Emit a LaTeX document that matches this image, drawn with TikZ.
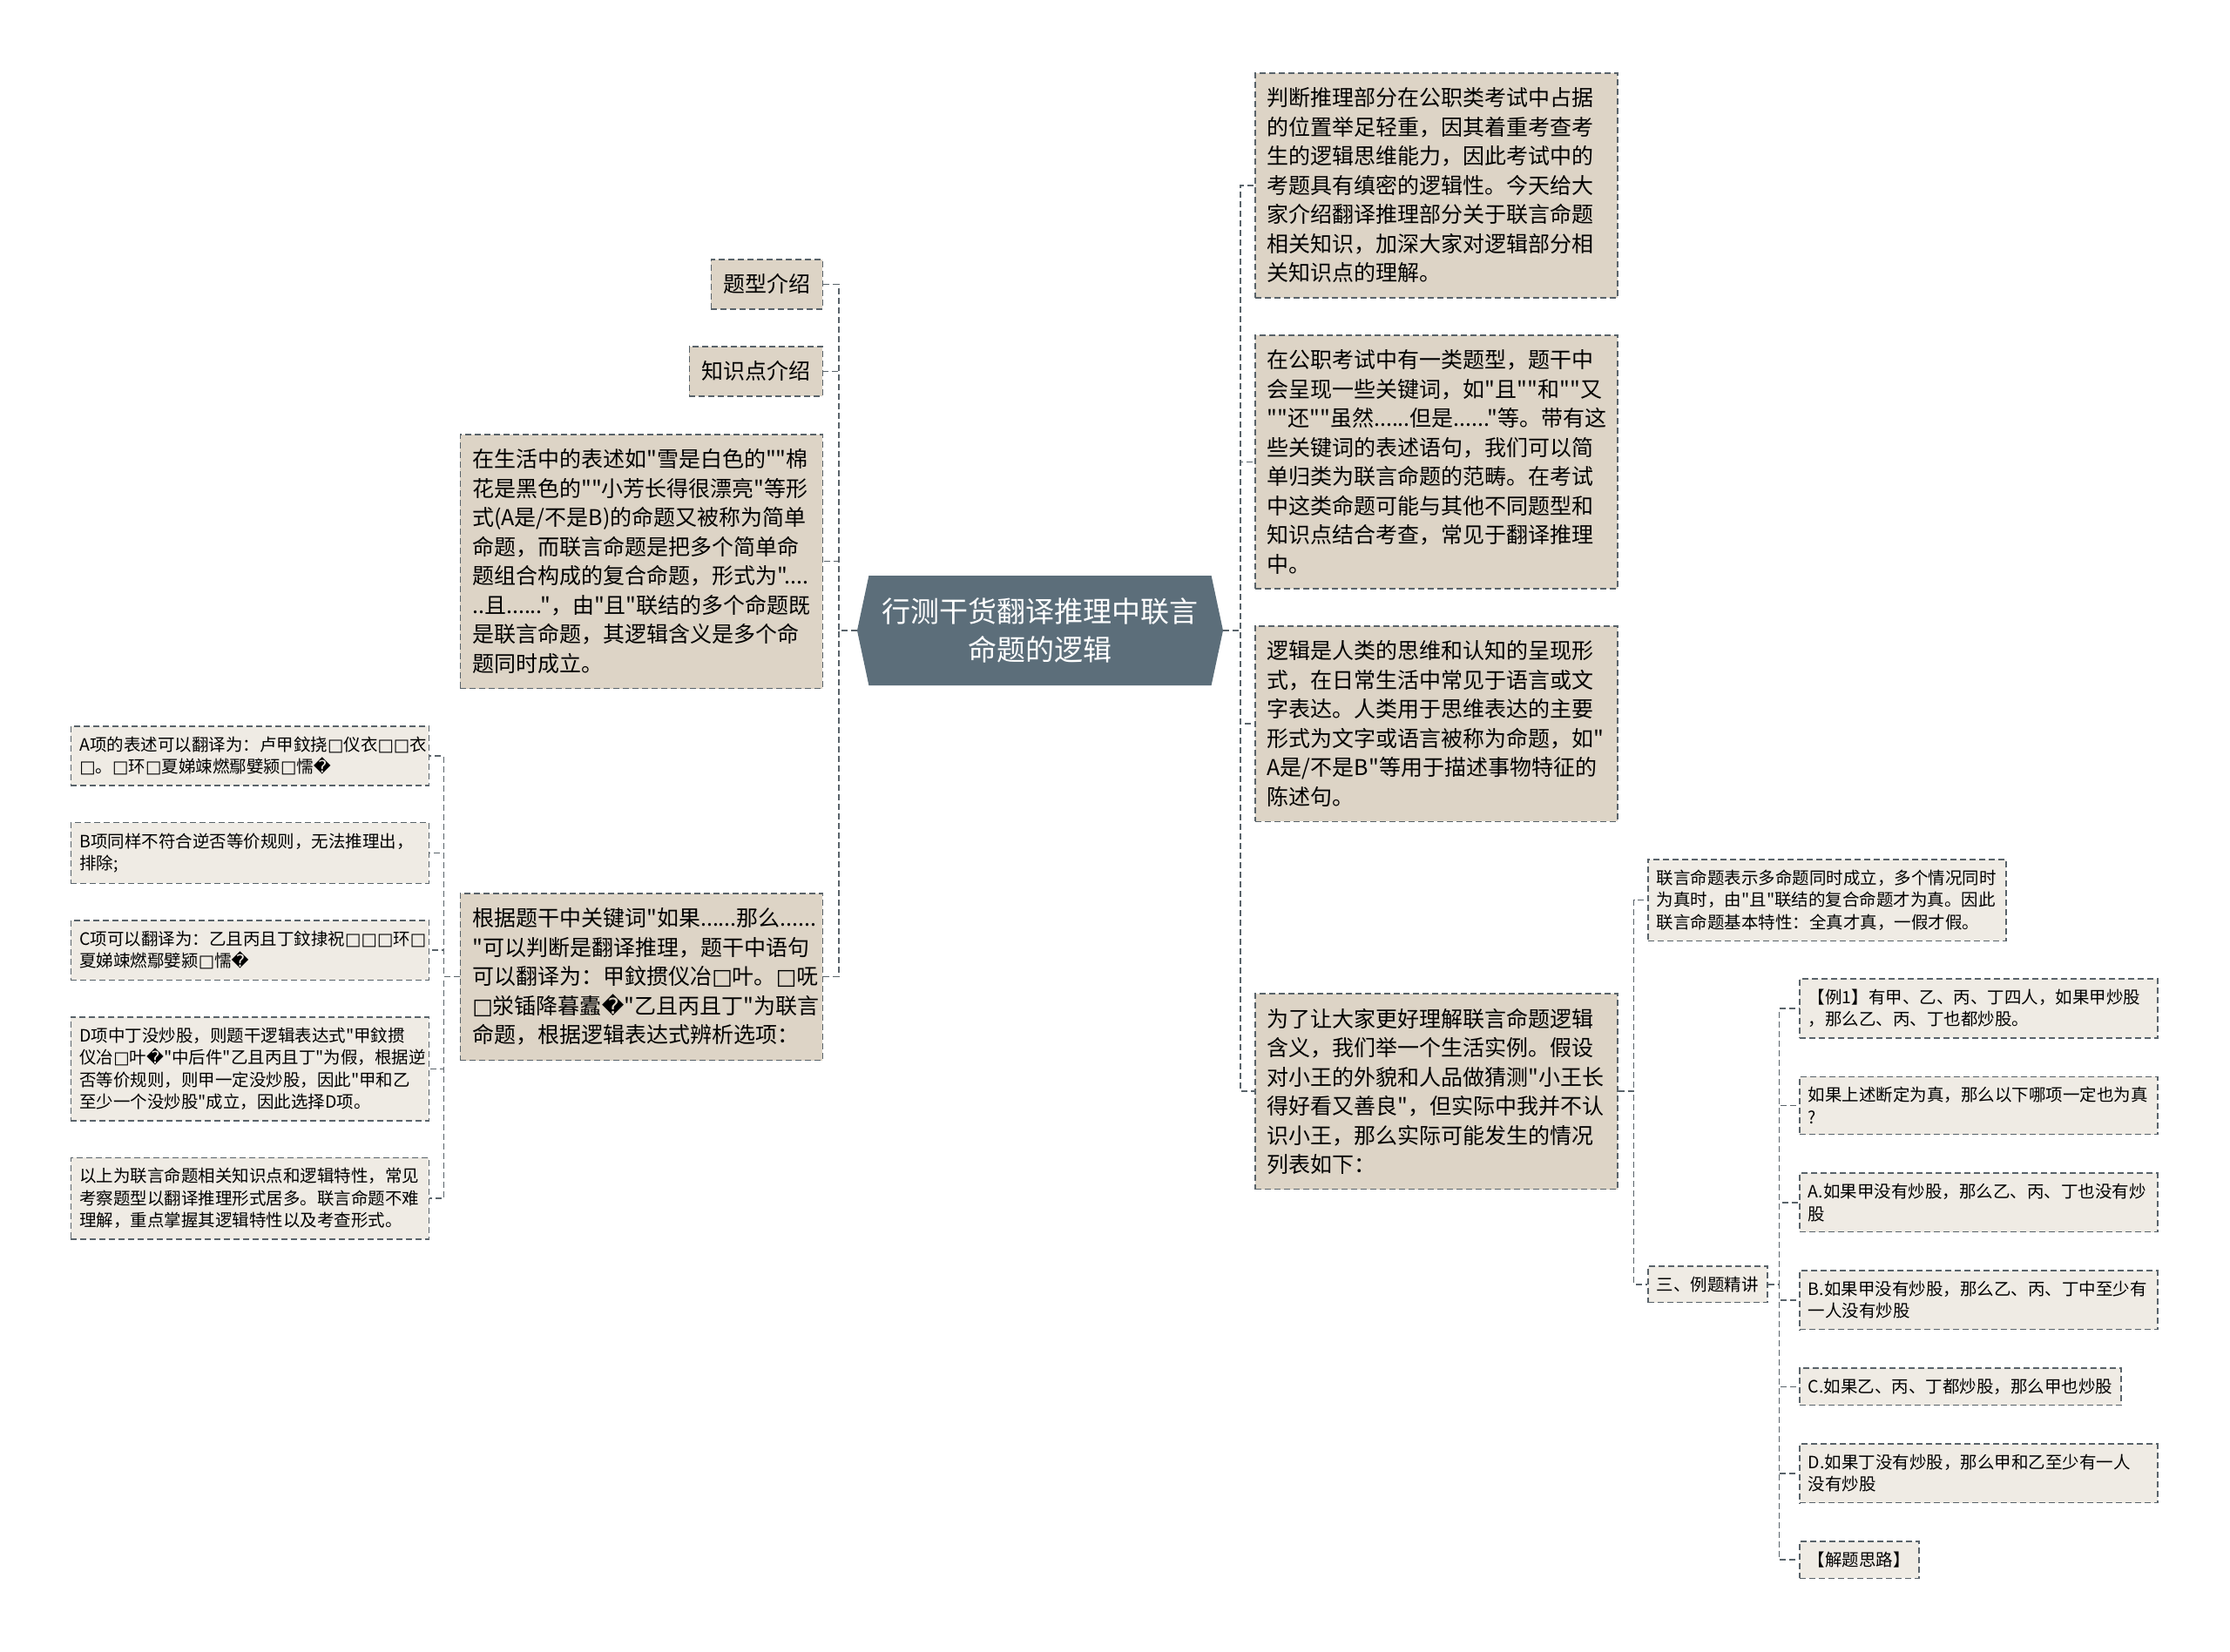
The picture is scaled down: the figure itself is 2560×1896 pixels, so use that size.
\documentclass[tikz,border=0pt]{standalone}
\usepackage{fontspec}
\newfontfamily\cjkfont{Noto Sans CJK SC}
\newfontfamily\symfont{DejaVu Sans}
\usetikzlibrary{positioning}
\usetikzlibrary{shapes.symbols}
\definecolor{rootfill}{HTML}{5C6E7A}
\definecolor{boxfill}{HTML}{DDD4C6}
\definecolor{leaffill}{HTML}{EFEBE4}
\definecolor{linegray}{HTML}{59636A}
\newcommand\tofu{{\symfont\char"25A1}}
\newcommand\badch{{\symfont\char"FFFD}}
\tikzset{
bigbox/.style={
  rectangle,
  draw=linegray,
  dash pattern=on 7pt off 4pt,
  line width=1.5pt,
  fill=boxfill,
  inner xsep=14pt,
  inner ysep=17pt,
  align=left,
  font=\cjkfont\fontsize{25}{33.5}\selectfont
  },
wide/.style={text width=388pt},
leafbox/.style={
  rectangle,
  draw=linegray,
  dash pattern=on 7pt off 4pt,
  line width=1.5pt,
  fill=leaffill,
  inner xsep=10pt,
  inner ysep=12pt,
  align=left,
  font=\cjkfont\fontsize{19.5}{25.5}\selectfont
  },
leafwide/.style={text width=391pt},
rootbox/.style={
  signal,
  signal to=west and east,
  signal pointer angle=156,
  fill=rootfill,
  text=white,
  minimum width=420pt,
  minimum height=126pt,
  align=center,
  font=\cjkfont\fontsize{33}{44}\selectfont
  },
link/.style={draw=linegray,dash pattern=on 7pt off 4pt,line width=1.5pt},
elbow/.style={to path={-- ++(#1,0) |- (\tikztotarget)}}
}
\begin{document}
\begin{tikzpicture}[x=1pt,y=-1pt]
            \useasboundingbox[fill=white] (0,0) rectangle (2560,1896);
            % centre
            \node[rootbox] (root) at (1194,724) {行测干货翻译推理中联言\\命题的逻辑};
            % right branch
            \node[bigbox,wide,anchor=north west] (r1) at (1440,83) {判断推理部分在公职类考试中占据\\的位置举足轻重，因其着重考查考\\生的逻辑思维能力，因此考试中的\\考题具有缜密的逻辑性。今天给大\\家介绍翻译推理部分关于联言命题\\相关知识，加深大家对逻辑部分相\\关知识点的理解。};
            \node[bigbox,wide,anchor=north west] (r2) at (1440,384) {在公职考试中有一类题型，题干中\\会呈现一些关键词，如"且""和""又\\""还""虽然......但是......"等。带有这\\些关键词的表述语句，我们可以简\\单归类为联言命题的范畴。在考试\\中这类命题可能与其他不同题型和\\知识点结合考查，常见于翻译推理\\中。};
            \node[bigbox,wide,anchor=north west] (r3) at (1440,718) {逻辑是人类的思维和认知的呈现形\\式，在日常生活中常见于语言或文\\字表达。人类用于思维表达的主要\\形式为文字或语言被称为命题，如"\\A是/不是B"等用于描述事物特征的\\陈述句。};
            \node[bigbox,wide,anchor=north west] (r4) at (1440,1140) {为了让大家更好理解联言命题逻辑\\含义，我们举一个生活实例。假设\\对小王的外貌和人品做猜测"小王长\\得好看又善良"，但实际中我并不认\\识小王，那么实际可能发生的情况\\列表如下：};
            \node[leafbox,leafwide,anchor=north west] (s1) at (1891,986) {联言命题表示多命题同时成立，多个情况同时\\为真时，由"且"联结的复合命题才为真。因此\\联言命题基本特性：全真才真，一假才假。};
            \node[leafbox,anchor=north west] (s2) at (1891,1453) {三、例题精讲};
            \node[leafbox,leafwide,anchor=north west] (e1) at (2065,1123) {【例1】有甲、乙、丙、丁四人，如果甲炒股\\，那么乙、丙、丁也都炒股。};
            \node[leafbox,leafwide,below=43pt of e1.south west,anchor=north west] (e2) {如果上述断定为真，那么以下哪项一定也为真\\?};
            \node[leafbox,leafwide,below=43pt of e2.south west,anchor=north west] (e3) {A.如果甲没有炒股，那么乙、丙、丁也没有炒\\股};
            \node[leafbox,leafwide,below=43pt of e3.south west,anchor=north west] (e4) {B.如果甲没有炒股，那么乙、丙、丁中至少有\\一人没有炒股};
            \node[leafbox,below=43pt of e4.south west,anchor=north west] (e5) {C.如果乙、丙、丁都炒股，那么甲也炒股};
            \node[leafbox,leafwide,below=43pt of e5.south west,anchor=north west] (e6) {D.如果丁没有炒股，那么甲和乙至少有一人\\没有炒股};
            \node[leafbox,below=43pt of e6.south west,anchor=north west] (e7) {【解题思路】};
            % left branch
            \node[bigbox,anchor=north east] (l1) at (945,297) {题型介绍};
            \node[bigbox,anchor=north east] (l2) at (945,397) {知识点介绍};
            \node[bigbox,wide,anchor=north east] (l3) at (945,498) {在生活中的表述如"雪是白色的""棉\\花是黑色的""小芳长得很漂亮"等形\\式(A是/不是B)的命题又被称为简单\\命题，而联言命题是把多个简单命\\题组合构成的复合命题，形式为"....\\..且......"，由"且"联结的多个命题既\\是联言命题，其逻辑含义是多个命\\题同时成立。};
            \node[bigbox,wide,anchor=north east] (l4) at (945,1025) {根据题干中关键词"如果......那么......\\"可以判断是翻译推理，题干中语句\\可以翻译为：甲鈫掼仪冶\tofu 叶。\tofu 呒\\\tofu 泶锸降暮蠹\badch"乙且丙且丁"为联言\\命题，根据逻辑表达式辨析选项：};
            \node[leafbox,leafwide,anchor=north east] (ka) at (493,833) {A项的表述可以翻译为：卢甲鈫挠\tofu 仪衣\tofu\tofu 衣\\\tofu 。\tofu 环\tofu 夏娣竦燃鄢嬖颍\tofu 懦\badch};
            \node[leafbox,leafwide,below=41pt of ka.south east,anchor=north east] (kb) {B项同样不符合逆否等价规则，无法推理出，\\排除;};
            \node[leafbox,leafwide,below=41pt of kb.south east,anchor=north east] (kc) {C项可以翻译为：乙且丙且丁鈫捸祝\tofu\tofu\tofu 环\tofu\\夏娣竦燃鄢嬖颍\tofu 懦\badch};
            \node[leafbox,leafwide,below=41pt of kc.south east,anchor=north east] (kd) {D项中丁没炒股，则题干逻辑表达式"甲鈫掼\\仪冶\tofu 叶\badch"中后件"乙且丙且丁"为假，根据逆\\否等价规则，则甲一定没炒股，因此"甲和乙\\至少一个没炒股"成立，因此选择D项。};
            \node[leafbox,leafwide,below=41pt of kd.south east,anchor=north east] (ke) {以上为联言命题相关知识点和逻辑特性，常见\\考察题型以翻译推理形式居多。联言命题不难\\理解，重点掌握其逻辑特性以及考查形式。};
            % links
            \path[link,elbow=20]
            (root.east) edge (r1.west) edge (r2.west) edge (r3.west) edge (r4.west);
            \path[link,elbow=-21]
            (root.west) edge (l1.east) edge (l2.east) edge (l3.east) edge (l4.east);
            \path[link,elbow=18]
            (r4.east) edge (s1.west) edge (s2.west);
            \path[link,elbow=13]
            (s2.east) edge (e1.west) edge (e2.west) edge (e3.west) edge (e4.west)
                      edge (e5.west) edge (e6.west) edge (e7.west);
            \path[link,elbow=-18]
            (l4.west) edge (ka.east) edge (kb.east) edge (kc.east) edge (kd.east) edge (ke.east);
        \end{tikzpicture}
\end{document}
